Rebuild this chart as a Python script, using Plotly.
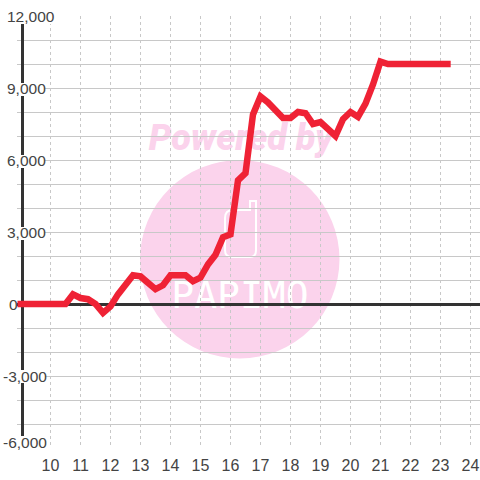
import plotly.graph_objects as go

hours = [8.9, 10.5, 10.75, 11, 11.25, 11.5, 11.75, 12, 12.25, 12.5, 12.75, 13, 13.25, 13.5, 13.75,
         14, 14.25, 14.5, 14.75, 15, 15.25, 15.5, 15.75, 16, 16.25, 16.5, 16.75, 17, 17.25, 17.5,
         17.75, 18, 18.25, 18.5, 18.75, 19, 19.25, 19.5, 19.75, 20, 20.25, 20.5, 20.75, 21, 21.25,
         21.5, 22, 23.34]
profit = [0, 0, 400, 250, 200, 0, -370, -100, 400, 750, 1200, 1150, 850, 620, 780,
          1200, 1200, 1200, 950, 1100, 1650, 2050, 2780, 2900, 5150, 5450, 7900, 8650, 8400, 8100,
          7750, 7750, 8000, 7950, 7500, 7580, 7250, 7000, 7700, 8000, 7800, 8350, 9150, 10100, 10000,
          10000, 10000, 10000]
x_ticks = list(range(10, 25))
y_minor = list(range(-6000, 13000, 1000))
y_labels = [12000, 9000, 6000, 3000, 0, -3000, -6000]
y_label_text = ["12,000", "9,000", "6,000", "3,000", "0", "-3,000", "-6,000"]

L, R, T, B = 17, 0, 16, 32
W = H = 480
px = lambda v: (v - L) / (W - L - R)
py = lambda v: (H - B - v) / (H - T - B)

INK = "#444444"
PINK = "#FBD3EC"

fig = go.Figure()
fig.add_trace(go.Scatter(x=hours, y=profit, mode="lines", cliponaxis=False,
                         line=dict(color="#EF2235", width=6.5, shape="linear"), hoverinfo="skip"))

shapes = [
    dict(type="circle", xref="paper", yref="paper", layer="below",
         x0=px(140), x1=px(339.5), y0=py(358.5), y1=py(160),
         fillcolor=PINK, line=dict(width=0)),
    dict(type="path", xref="paper", yref="paper", layer="below",
         path="M {a} {b} L {a} {c} Q {a} {d} {e} {d} L {f} {d} L {f} {g} L {h} {g} L {h} {i} Q {h} {j} {f} {j} L {k} {j} Q {a} {j} {a} {b} Z".format(
             a=px(225), b=py(250), c=py(218), d=py(210), e=px(233), f=px(250),
             g=py(201), h=px(256), i=py(250), j=py(257), k=px(232)),
         fillcolor="rgba(0,0,0,0)", line=dict(color="white", width=2)),
    dict(type="rect", xref="paper", yref="paper", layer="below",
         x0=px(149), x1=px(333), y0=py(152), y1=py(118),
         line=dict(width=0), fillcolor="rgba(0,0,0,0)",
         label=dict(text="Powered by", textposition="middle center",
                    font=dict(family="Roboto", size=36, color=PINK, weight=900, style="italic"))),
    dict(type="rect", xref="paper", yref="paper", layer="below",
         x0=px(170), x1=px(310), y0=py(310), y1=py(274),
         line=dict(width=0), fillcolor="rgba(0,0,0,0)",
         label=dict(text="PAPIMO", textposition="middle center",
                    font=dict(family="DejaVu Sans Mono", size=38, color="white"))),
    dict(type="rect", xref="paper", yref="paper", layer="between",
         x0=0, x1=px(19), y0=0, y1=1, fillcolor="white", line=dict(width=0)),
]
label_boxes = [(4, 53, 10, 24), (4, 45, 83, 96), (4, 45, 155, 168), (4, 45, 227, 240),
               (0, 45, 370, 383), (0, 45, 436, 449)]
for x0, x1, y0, y1 in label_boxes:
    shapes.append(dict(type="rect", xref="paper", yref="paper", layer="above",
                       x0=px(x0), x1=px(x1), y0=py(y1), y1=py(y0),
                       fillcolor="white", line=dict(width=0)))

starts = [5, 5, 5, 5, 7, 1, 1]
offsets = [0, 0, 0, 0, 0, 0, 6]
annotations = [
    dict(xref="paper", yref="y", x=px(s), y=v, text=t, xanchor="left", yanchor="middle",
         showarrow=False, yshift=o, font=dict(family="Liberation Sans", size=15.5, color=INK))
    for v, t, s, o in zip(y_labels, y_label_text, starts, offsets)
]

fig.update_layout(
    width=W, height=H, autosize=False, showlegend=False,
    margin=dict(l=L, r=R, t=T, b=B, pad=0),
    paper_bgcolor="white", plot_bgcolor="rgba(0,0,0,0)",
    shapes=shapes, annotations=annotations,
    font=dict(family="Liberation Sans", size=15, color=INK),
    xaxis=dict(range=[10 - 33.5 / 30, 24 + 9.5 / 30], tickmode="array", tickvals=x_ticks,
               ticktext=[str(v) for v in x_ticks], showgrid=True, gridcolor="#C8C8C8",
               griddash="3px,3px", gridwidth=1, zeroline=False, showline=False,
               tickfont=dict(family="Liberation Sans", size=16, color=INK), tickangle=0,
               ticks="outside", ticklen=3, tickcolor="rgba(0,0,0,0)"),
    yaxis=dict(range=[-6000, 12000], tickmode="array", tickvals=y_minor, showticklabels=False,
               showgrid=True, gridcolor="#C8C8C8", gridwidth=1, griddash="solid",
               zeroline=True, zerolinecolor="#333333", zerolinewidth=3, layer="below traces",
               anchor="free", position=px(22),
               showline=True, linecolor="#333333", linewidth=3, ticks=""),
)
fig.write_html("out.html", config=dict(displayModeBar=False),
               post_script="document.body.style.margin='0';document.documentElement.style.overflow='hidden';")
